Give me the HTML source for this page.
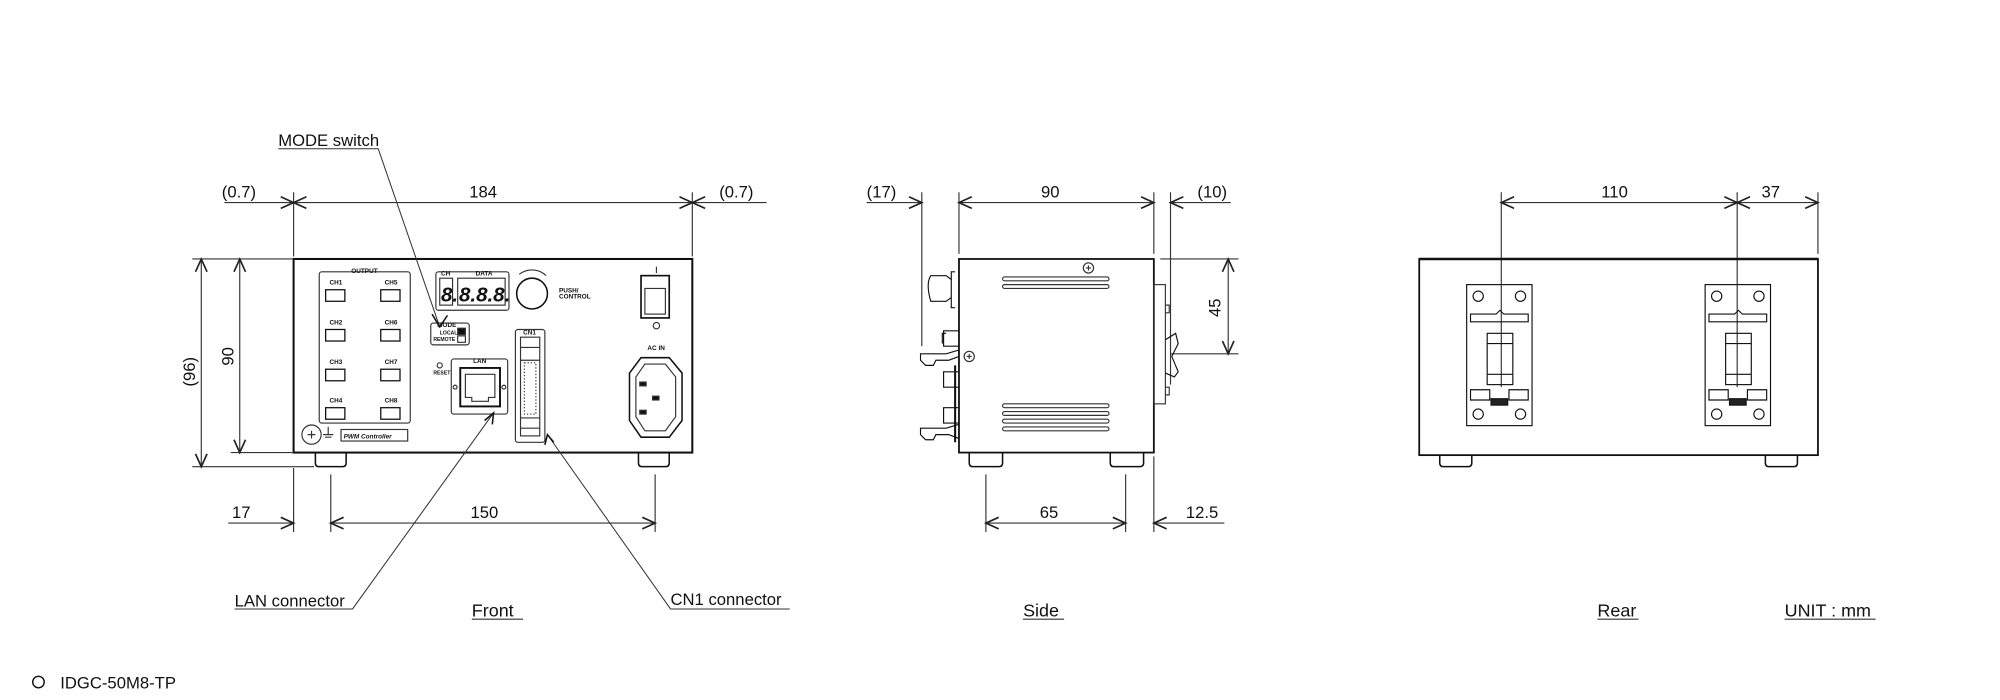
<!DOCTYPE html>
<html><head><meta charset="utf-8"><style>
html,body{margin:0;padding:0;background:#fff}
svg{display:block}
text{font-family:"Liberation Sans","Noto Sans CJK JP",sans-serif;fill:#111}
</style></head><body>
<svg width="2000" height="700" viewBox="0 0 1560 546" preserveAspectRatio="none" xmlns="http://www.w3.org/2000/svg">
<defs>
<marker id="a" markerWidth="14" markerHeight="12" refX="0" refY="0" viewBox="-11 -6 13 12" orient="auto-start-reverse" markerUnits="userSpaceOnUse">
<path d="M-10,-4.5 L0,0 L-10,4.5" fill="none" stroke="#222" stroke-width="1.3"/>
</marker>
</defs>
<g stroke="#333" stroke-width="0.9" fill="none">
<!-- ===== FRONT ===== -->
<!-- extension lines -->
<line x1="229" y1="150" x2="229" y2="200"/><line x1="540" y1="150" x2="540" y2="200"/>
<line x1="175" y1="158" x2="229" y2="158" marker-end="url(#a)"/>
<line x1="229" y1="158" x2="540" y2="158" marker-start="url(#a)" marker-end="url(#a)"/>
<line x1="598" y1="158" x2="540" y2="158" marker-end="url(#a)"/>
<line x1="150" y1="202" x2="228" y2="202"/><line x1="180" y1="353" x2="228" y2="353"/><line x1="150" y1="364" x2="245" y2="364"/>
<line x1="157" y1="202" x2="157" y2="364" marker-start="url(#a)" marker-end="url(#a)"/>
<line x1="187" y1="202" x2="187" y2="353" marker-start="url(#a)" marker-end="url(#a)"/>
<line x1="229" y1="365" x2="229" y2="415"/><line x1="258" y1="370" x2="258" y2="415"/><line x1="511" y1="370" x2="511" y2="415"/>
<line x1="178" y1="408" x2="229" y2="408" marker-end="url(#a)"/>
<line x1="258" y1="408" x2="511" y2="408" marker-start="url(#a)" marker-end="url(#a)"/>
<!-- body -->
<rect x="229" y="202" width="311" height="151" stroke="#111" stroke-width="1.6"/>
<path d="M246,353 v8 q0,3 3,3 h18 q3,0 3,-3 v-8 M498,353 v8 q0,3 3,3 h18 q3,0 3,-3 v-8" stroke="#111" stroke-width="1.2"/>
<!-- output box -->
<rect x="249" y="212" width="71" height="118" rx="2"/>
<g stroke="#111" stroke-width="1">
<rect x="254" y="226" width="15" height="9"/><rect x="297" y="226" width="15" height="9"/>
<rect x="254" y="257" width="15" height="9"/><rect x="297" y="257" width="15" height="9"/>
<rect x="254" y="288" width="15" height="9"/><rect x="297" y="288" width="15" height="9"/>
<rect x="254" y="318" width="15" height="9"/><rect x="297" y="318" width="15" height="9"/>
</g>
<!-- display -->
<rect x="340" y="212" width="57" height="30" rx="2"/>
<rect x="343" y="217" width="10" height="21"/><rect x="357" y="217" width="37" height="21"/>
<circle cx="415" cy="229" r="12" stroke="#111" stroke-width="1.2"/>
<path d="M405,214 A16,16 0 0 1 426,215" />
<!-- mode -->
<rect x="336" y="252" width="30" height="17" rx="2"/>
<rect x="357" y="256" width="6" height="5" fill="#111"/><rect x="357" y="262" width="6" height="5"/>
<!-- LAN -->
<circle cx="343" cy="285" r="2"/>
<rect x="352" y="280" width="44" height="43" rx="2"/>
<rect x="359" y="287" width="31" height="30" stroke="#111" stroke-width="1.5"/>
<path d="M363,292 h23 v18 h-5 v3 h-13 v-3 h-5 z"/>
<circle cx="355" cy="302" r="1.5"/><circle cx="393" cy="302" r="1.5"/>
<!-- CN1 -->
<rect x="402" y="257" width="23" height="88" rx="2"/>
<rect x="406" y="263" width="15" height="77"/>
<line x1="406" y1="271" x2="421" y2="271"/><line x1="406" y1="281" x2="421" y2="281"/>
<line x1="406" y1="326" x2="421" y2="326"/><line x1="406" y1="334" x2="421" y2="334"/>
<rect x="409" y="283" width="9" height="40" stroke-dasharray="1,1.5"/>
<!-- switch -->
<rect x="500" y="215" width="22" height="33" stroke="#111" stroke-width="1.3"/>
<rect x="503" y="225" width="16" height="20"/>
<line x1="512" y1="208" x2="512" y2="213"/>
<circle cx="512" cy="254" r="2.5"/>
<!-- AC inlet -->
<path d="M500,279 H522 L532,291 V328 L522,341 H500 L491,328 V291 Z" stroke="#111" stroke-width="1.2"/>
<path d="M503,284 H519 L527,294 V325 L519,336 H503 L496,325 V294 Z"/>
<rect x="499" y="298" width="5" height="3" fill="#111"/><rect x="509" y="309" width="5" height="3" fill="#111"/><rect x="499" y="320" width="5" height="3" fill="#111"/>
<!-- ground -->
<circle cx="243" cy="339" r="7.5"/><path d="M240,339 h6 M243,336 v6"/>
<path d="M256,333 v6 M252,339 h8 M253.5,341 h5"/>
<rect x="266" y="335" width="52" height="9"/>
<!-- leaders -->
<path d="M217,116 H295 L343,255" stroke-width="0.8"/>
<path d="M183,475 H275 L385,322" stroke-width="0.8"/>
<path d="M616,475 H523 L427,339" stroke-width="0.8"/>
<path d="M337,245 L343,255 L349,246" stroke="#111" stroke-width="1.2"/>
<path d="M378,328 L385,322 L384,331" stroke="#111" stroke-width="1.2"/>
<path d="M425,347 L427,339 L432,345" stroke="#111" stroke-width="1.2"/>
<line x1="368" y1="483" x2="408" y2="483"/>

<!-- ===== SIDE ===== -->
<line x1="719" y1="150" x2="719" y2="270"/><line x1="748" y1="150" x2="748" y2="198"/>
<line x1="900" y1="150" x2="900" y2="198"/><line x1="913" y1="150" x2="913" y2="300"/>
<line x1="676" y1="158" x2="719" y2="158" marker-end="url(#a)"/>
<line x1="748" y1="158" x2="900" y2="158" marker-start="url(#a)" marker-end="url(#a)"/>
<line x1="960" y1="158" x2="913" y2="158" marker-end="url(#a)"/>
<line x1="905" y1="202" x2="966" y2="202"/><line x1="913" y1="276" x2="966" y2="276"/>
<line x1="958" y1="202" x2="958" y2="276" marker-start="url(#a)" marker-end="url(#a)"/>
<line x1="769" y1="370" x2="769" y2="415"/><line x1="878" y1="370" x2="878" y2="415"/><line x1="900" y1="356" x2="900" y2="415"/>
<line x1="769" y1="408" x2="878" y2="408" marker-start="url(#a)" marker-end="url(#a)"/>
<line x1="955" y1="408" x2="900" y2="408" marker-end="url(#a)"/>
<rect x="748" y="202" width="152" height="151" stroke="#111" stroke-width="1.4"/>
<path d="M756,353 v8 q0,3 3,3 h20 q3,0 3,-3 v-8 M866,353 v8 q0,3 3,3 h20 q3,0 3,-3 v-8" stroke="#111" stroke-width="1.2"/>
<rect x="782" y="216" width="83" height="3" rx="1.5"/><rect x="782" y="222" width="83" height="3" rx="1.5"/>
<rect x="782" y="315" width="83" height="3" rx="1.5"/><rect x="782" y="321" width="83" height="3" rx="1.5"/>
<rect x="782" y="327" width="83" height="3" rx="1.5"/><rect x="782" y="333" width="83" height="3" rx="1.5"/>
<circle cx="849" cy="209" r="4"/><path d="M847,209h4M849,207v4"/>
<circle cx="756" cy="278" r="4"/><path d="M754,278h4M756,276v4"/>
<!-- left attachments -->
<path d="M745,212 h-3 v28 h3 M742,218 l-4,-3 h-12 q-4,6 0,20 h12 l4,-3" stroke="#111"/>
<path d="M748,258 h-12 v12 h12 M738,260 h-3 v8" stroke="#111"/>
<path d="M748,273 l-10,3 h-20 v5 l4,4 h6 l2,-4 h10 l8,-3" stroke="#111"/>
<path d="M748,290 h-12 v12 h12 M748,318 h-12 v12 h12" stroke="#111"/>
<path d="M745,285 v60" stroke="#111" stroke-width="1.6"/>
<path d="M748,331 l-10,3 h-20 v5 l4,4 h6 l2,-4 h10 l8,3" stroke="#111"/>
<!-- right plate -->
<rect x="900" y="222" width="9" height="93"/>
<path d="M909,238 h3 v6 h-3 M909,302 h3 v6 h-3"/>
<path d="M909,265 l8,-5 l2,8 l-5,10 l5,12 l-3,4 l-7,-3" stroke="#111"/>
<line x1="798" y1="483" x2="830" y2="483"/>

<!-- ===== REAR ===== -->
<line x1="1171" y1="150" x2="1171" y2="302"/><line x1="1355" y1="150" x2="1355" y2="302"/><line x1="1418" y1="150" x2="1418" y2="198"/>
<line x1="1171" y1="158" x2="1355" y2="158" marker-start="url(#a)" marker-end="url(#a)"/>
<line x1="1355" y1="158" x2="1418" y2="158" marker-start="url(#a)" marker-end="url(#a)"/>
<rect x="1107" y="202" width="311" height="153" stroke="#111" stroke-width="1.4"/>
<line x1="1107" y1="202" x2="1418" y2="202" stroke="#111" stroke-width="2"/>
<path d="M1123,355 v6 q0,3 3,3 h19 q3,0 3,-3 v-6 M1377,355 v6 q0,3 3,3 h19 q3,0 3,-3 v-6" stroke="#111" stroke-width="1.2"/>
<g id="din" stroke="#111">
<rect x="1144" y="222" width="51" height="110"/>
<circle cx="1153" cy="231" r="4"/><circle cx="1186" cy="231" r="4"/>
<circle cx="1153" cy="323" r="4"/><circle cx="1186" cy="323" r="4"/>
<path d="M1147,245 h20 l3,-3 l3,3 h19 v6 h-45 z"/>
<rect x="1160" y="260" width="20" height="40"/>
<line x1="1160" y1="268" x2="1180" y2="268"/><line x1="1160" y1="292" x2="1180" y2="292"/>
<path d="M1147,304 h15 v8 h-15 z M1177,304 h15 v8 h-15 z"/>
<rect x="1163" y="311" width="13" height="5" fill="#222"/>
</g>
<use href="#din" x="186"/>
<line x1="1246" y1="483" x2="1278" y2="483"/>
<line x1="1392" y1="483" x2="1463" y2="483"/>
<circle cx="30" cy="532" r="4.5" stroke="#111" stroke-width="1.1"/>
</g>
<!-- text -->
<g font-size="13">
<text x="217" y="114">MODE switch</text>
<text x="173" y="154">(0.7)</text>
<text x="366" y="154">184</text>
<text x="561" y="154">(0.7)</text>
<text x="181" y="404">17</text>
<text x="367" y="404">150</text>
<text x="183" y="473">LAN connector</text>
<text x="523" y="472">CN1 connector</text>
<text x="368" y="481" font-size="14">Front</text>
<text transform="translate(152,290) rotate(-90)" text-anchor="middle">(96)</text>
<text transform="translate(182,278) rotate(-90)" text-anchor="middle">90</text>
<text x="676" y="154">(17)</text>
<text x="812" y="154">90</text>
<text x="934" y="154">(10)</text>
<text transform="translate(952,240) rotate(-90)" text-anchor="middle">45</text>
<text x="811" y="404">65</text>
<text x="925" y="404">12.5</text>
<text x="798" y="481" font-size="14">Side</text>
<text x="1249" y="154">110</text>
<text x="1374" y="154">37</text>
<text x="1246" y="481" font-size="14">Rear</text>
<text x="1392" y="481" font-size="14">UNIT : mm</text>
<text x="47" y="537">IDGC-50M8-TP</text>
</g>
<g font-size="5" font-weight="bold">
<text x="274" y="213">OUTPUT</text>
<text x="257" y="222">CH1</text><text x="300" y="222">CH5</text>
<text x="257" y="253">CH2</text><text x="300" y="253">CH6</text>
<text x="257" y="284">CH3</text><text x="300" y="284">CH7</text>
<text x="257" y="314">CH4</text><text x="300" y="314">CH8</text>
<text x="344" y="215">CH</text><text x="371" y="215">DATA</text>
<text x="436" y="228">PUSH/</text><text x="436" y="233">CONTROL</text>
<text x="341" y="255">MODE</text><text x="343" y="261" font-size="4">LOCAL</text><text x="338" y="266" font-size="4">REMOTE</text>
<text x="338" y="292" font-size="4">RESET</text>
<text x="369" y="283">LAN</text>
<text x="408" y="261">CN1</text>
<text x="505" y="273">AC IN</text>
<text x="268" y="342" font-style="italic">PWM Controller</text>
</g>
<g font-size="16" font-weight="bold" font-style="italic">
<text x="344" y="235">8.</text><text x="358" y="235">8.8.8.</text>
</g>
</svg>
</body></html>
